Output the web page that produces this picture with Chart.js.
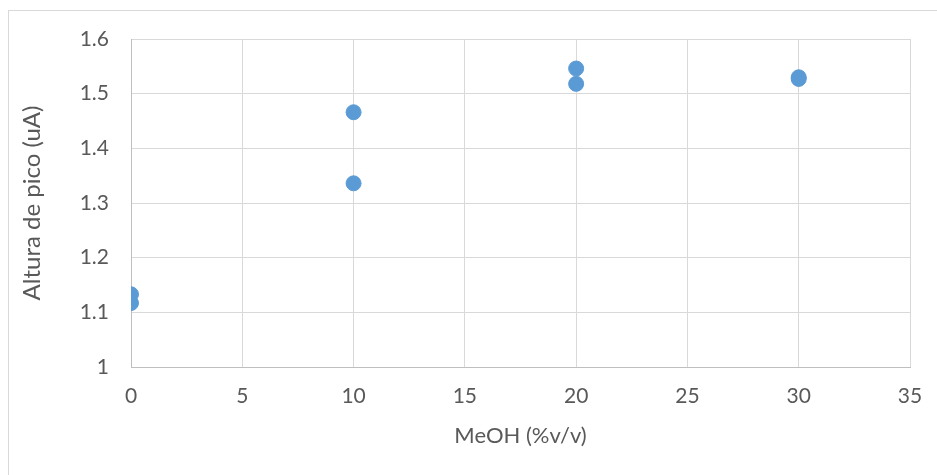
<!DOCTYPE html>
<html>
<head>
<meta charset="utf-8">
<script src="https://cdn.jsdelivr.net/npm/chart.js@4"></script>
<style>
  html, body { margin: 0; padding: 0; background: #fff; }
  #wrap { position: relative; width: 937px; height: 475px; overflow: hidden; }
  #frame { position: absolute; left: 8px; top: 10px; width: 1000px; height: 600px;
           border-left: 1px solid #d9d9d9; border-top: 1px solid #d9d9d9; }
  canvas { position: absolute; left: 0; top: 0; }
</style>
</head>
<body>
<div id="wrap">
  <div id="frame"></div>
  <canvas id="chart" width="937" height="475"></canvas>
</div>
<script>
// MeOH content vs peak height, two replicates per level
const meohPct = [0, 0, 10, 10, 20, 20, 30, 30];
const peakHeight = [1.133, 1.117, 1.466, 1.336, 1.546, 1.518, 1.530, 1.527];

const xTitle = 'MeOH (%v/v)';
const yTitle = 'Altura de pico (uA)';

const points = meohPct.map((x, i) => ({ x: x, y: peakHeight[i] }));

const family = 'Lato, "Open Sans", sans-serif';
const tickFont = { family: family, size: 21 };
const xTitleFont = { family: family, size: 22 };
const yTitleFont = { family: family, size: 24 };
const textColor = '#595959';

new Chart(document.getElementById('chart'), {
    type: 'scatter',
    data: {
        datasets: [{
            data: points,
            backgroundColor: '#5b9bd5',
            borderColor: '#5b9bd5',
            pointRadius: 7.5,
            pointHoverRadius: 7.5
        }]
    },
    options: {
        responsive: false,
        animation: false,
        layout: { padding: { left: 14, top: 39, right: 27, bottom: 22 } },
        plugins: { legend: { display: false }, tooltip: { enabled: false } },
        scales: {
            x: {
                type: 'linear',
                min: 0, max: 35,
                ticks: { stepSize: 5, color: textColor, font: tickFont, padding: 17, maxRotation: 0 },
                grid: { color: '#d9d9d9', drawTicks: false },
                border: { color: '#bfbfbf' },
                title: { display: true, text: xTitle, color: textColor, font: xTitleFont },
                afterFit: (s) => { s.height = 86; s.paddingLeft = 0; s.paddingRight = 0; }
            },
            y: {
                min: 1, max: 1.6,
                ticks: { stepSize: 0.1, color: textColor, font: tickFont, padding: 22,
                         callback: (v) => Number(v.toFixed(1)).toString() },
                grid: { color: '#d9d9d9', drawTicks: false },
                border: { color: '#bfbfbf' },
                title: { display: true, text: yTitle, color: textColor, font: yTitleFont },
                afterFit: (s) => { s.width = 117; s.paddingTop = 0; s.paddingBottom = 0; }
            }
        }
    }
});
</script>
</body>
</html>
